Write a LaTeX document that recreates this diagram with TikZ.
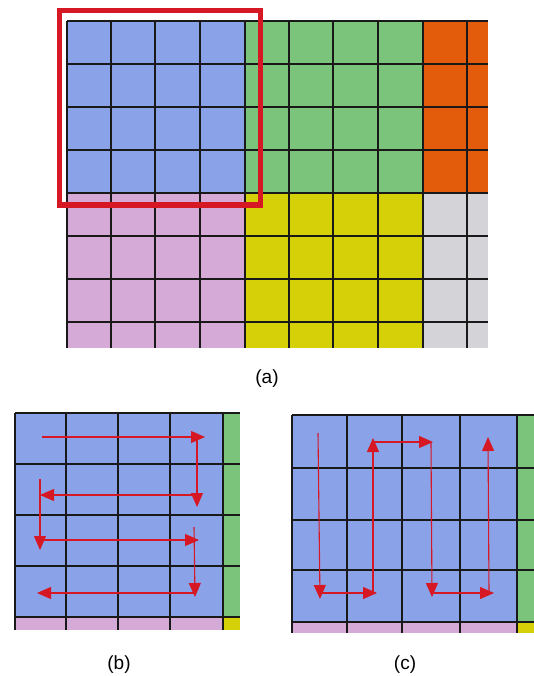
\documentclass[tikz,border=0pt]{standalone}
\usepackage{fontspec}
\setmainfont{Liberation Sans}
\usepackage{tikz}
\usetikzlibrary{arrows.meta, positioning}

\definecolor{blkblue}{RGB}{138,163,232}
\definecolor{blkgreen}{RGB}{122,196,124}
\definecolor{blkorange}{RGB}{226,92,12}
\definecolor{blkpink}{RGB}{214,170,214}
\definecolor{blkyellow}{RGB}{214,208,8}
\definecolor{blkgrey}{RGB}{212,212,216}
\definecolor{scanred}{RGB}{214,24,36}

\begin{document}
\begin{tikzpicture}[x=1pt, y=-1pt,
    gridline/.style={draw=black!90, line width=1.9pt},
    scan/.style={draw=scanred, line width=1.1pt, -{Triangle[length=14pt, width=12pt]}},
    caption/.style={font=\fontsize{19}{22}\selectfont, inner sep=0pt}]
    \useasboundingbox (0,0) rectangle (534,676);

    % (a) macroblock layout
    \fill[blkblue] (67,21) rectangle (245,193);
    \fill[blkgreen] (245,21) rectangle (423,193);
    \fill[blkorange] (423,21) rectangle (488,193);
    \fill[blkpink] (67,193) rectangle (245,348);
    \fill[blkyellow] (245,193) rectangle (423,348);
    \fill[blkgrey] (423,193) rectangle (488,348);
    \foreach \x in {67,111,155,200,245,289,333,378,423,467}
        \draw[gridline] (\x,21) -- (\x,348);
    \foreach \y in {21,64,107,150,193,236,279,322}
        \draw[gridline] (67,\y) -- (488,\y);
    \draw[draw=scanred, line width=5pt] (59.5,10.5) rectangle (260,205);
    \node[caption] (capa) at (267,379) {(a)};

    % (b) horizontal scan
    \fill[blkblue] (15,413) rectangle (223,617);
    \fill[blkgreen] (223,413) rectangle (240,617);
    \fill[blkpink] (15,617) rectangle (223,630);
    \fill[blkyellow] (223,617) rectangle (240,630);
    \foreach \x in {15,66,118,170,223}
        \draw[gridline] (\x,413) -- (\x,630);
    \foreach \y in {413,464,515,566,617}
        \draw[gridline] (15,\y) -- (240,\y);
    \draw[scan] (42,437) -- (205,437);
    \draw[scan] (197,437) -- (197,507);
    \draw[scan] (197,495) -- (40,495);
    \draw[scan] (40,479) -- (40,550);
    \draw[scan] (40,540) -- (199,540);
    \draw[scan] (194,527) -- (195,597);
    \draw[scan] (195,593) -- (37,593);
    \node[caption] (capb) at (119,665) {(b)};

    % (c) vertical scan
    \fill[blkblue] (292,415) rectangle (517,622);
    \fill[blkgreen] (517,415) rectangle (534,622);
    \fill[blkpink] (292,622) rectangle (517,633);
    \fill[blkyellow] (517,622) rectangle (534,633);
    \foreach \x in {292,347,402,460,517}
        \draw[gridline] (\x,415) -- (\x,633);
    \foreach \y in {415,468,520,570,622}
        \draw[gridline] (292,\y) -- (534,\y);
    \draw[scan] (318,433) -- (320,599);
    \draw[scan] (320,593) -- (377,593);
    \draw[scan] (373,593) -- (373,438);
    \draw[scan] (373,442) -- (433,442);
    \draw[scan] (431,442) -- (432,597);
    \draw[scan] (432,593) -- (494,593);
    \draw[scan] (489,593) -- (488,437);
    \node[caption] (capc) at (405,665) {(c)};
\end{tikzpicture}
\end{document}
